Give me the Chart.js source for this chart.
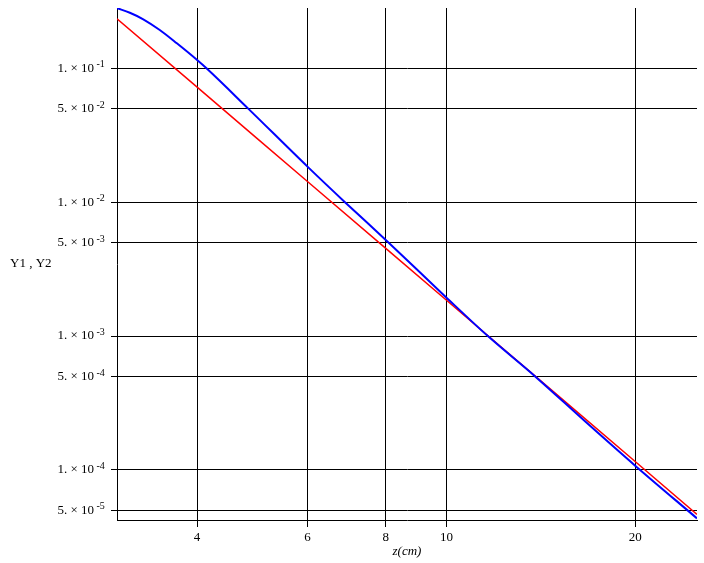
<!DOCTYPE html>
<html>
<head>
<meta charset="utf-8">
<script src="https://cdn.jsdelivr.net/npm/chart.js@4/dist/chart.umd.min.js"></script>
<style>
html,body{margin:0;padding:0;background:#fff;}
canvas{display:block;}
</style>
</head>
<body>
<canvas id="c" width="704" height="563"></canvas>
<script>
// z values (cm) and curve values
const zBlue = [2.98, 3.124, 3.282, 3.487, 3.713, 4.0, 4.14, 4.826, 6.0, 6.886, 8.0, 10.0, 11.64, 13.85, 16.65, 20.0, 25.1];
const Y1 = [0.281, 0.260, 0.2323, 0.1932, 0.1536, 0.1153, 0.100, 0.050, 0.01843, 0.0100, 0.00522, 0.001935, 0.00100, 0.000500, 0.000230, 0.0001077, 0.0000435];
const zRed = [2.98, 4, 5, 6, 8, 10, 12, 15, 20, 25.1];
const Y2 = [0.2340, 0.07227, 0.0296, 0.01427, 0.004517, 0.00185, 0.000892, 0.0003654, 0.0001156, 0.0000466];
const xTicks = [4, 6, 8, 10, 20];
const yTicks = [5e-5, 1e-4, 5e-4, 1e-3, 5e-3, 1e-2, 5e-2, 1e-1];
const yTickMantissa = ['5. × 10', '1. × 10', '5. × 10', '1. × 10', '5. × 10', '1. × 10', '5. × 10', '1. × 10'];
const yTickExponent = ['-5', '-4', '-4', '-3', '-3', '-2', '-2', '-1'];

const FONT = '"Liberation Serif", "Times New Roman", serif';

function tickIndex(v) {
  return yTicks.findIndex(t => Math.abs(t - v) / t < 1e-6);
}

const textPlugin = {
  id: 'extraText',
  afterDraw(chart) {
    const ctx = chart.ctx;
    const ys = chart.scales.y;
    ctx.save();
    ctx.fillStyle = '#000';
    // exponents of the y tick labels
    ctx.font = '10px ' + FONT;
    ctx.textAlign = 'left';
    ctx.textBaseline = 'middle';
    yTicks.forEach((v, i) => {
      const py = ys.getPixelForValue(v);
      ctx.fillText(yTickExponent[i], 96.5, py - 3.5);
    });
    // y axis title (horizontal)
    ctx.font = '13px ' + FONT;
    ctx.fillText('Y1 , Y2', 10, 264);
    ctx.restore();
  }
};

new Chart(document.getElementById('c'), {
  type: 'line',
  data: {
    datasets: [
      {
        label: 'Y1',
        data: zBlue.map((z, i) => ({x: z, y: Y1[i]})),
        borderColor: '#0000ff',
        borderWidth: 2,
        pointRadius: 0,
        cubicInterpolationMode: 'monotone',
        fill: false
      },
      {
        label: 'Y2',
        data: zRed.map((z, i) => ({x: z, y: Y2[i]})),
        borderColor: '#ff0000',
        borderWidth: 1.5,
        pointRadius: 0,
        tension: 0,
        fill: false
      }
    ]
  },
  options: {
    responsive: false,
    animation: false,
    devicePixelRatio: 1,
    layout: { padding: { top: 8, right: 7, left: 0, bottom: 0 } },
    plugins: { legend: { display: false }, tooltip: { enabled: false } },
    scales: {
      x: {
        type: 'logarithmic',
        min: 2.98,
        max: 25.1,
        afterBuildTicks: (s) => { s.ticks = xTicks.map(v => ({value: v})); },
        afterFit: (s) => { s.height = 43; s.paddingLeft = 0; s.paddingRight = 0; },
        ticks: {
          autoSkip: false,
          maxRotation: 0,
          padding: 3,
          color: '#000',
          font: { family: FONT, size: 13 },
          callback: (v) => String(v)
        },
        grid: { color: '#000', lineWidth: 1, drawTicks: true, tickLength: 7, tickColor: '#000' },
        border: { display: true, color: '#000', width: 1 },
        title: {
          display: true,
          text: 'z(cm)',
          color: '#000',
          font: { family: FONT, size: 13, style: 'italic' },
          padding: { top: 2, bottom: 4 }
        }
      },
      y: {
        type: 'logarithmic',
        min: 4.23e-5,
        max: 0.282,
        afterBuildTicks: (s) => { s.ticks = yTicks.map(v => ({value: v})); },
        afterFit: (s) => { s.width = 117; s.paddingTop = 0; s.paddingBottom = 0; },
        ticks: {
          autoSkip: false,
          padding: 17,
          color: '#000',
          font: { family: FONT, size: 13 },
          callback: (v) => {
            const i = tickIndex(v);
            return i >= 0 ? yTickMantissa[i] : '';
          }
        },
        grid: { color: '#000', lineWidth: 1, drawTicks: true, tickLength: 6, tickColor: '#000' },
        border: { display: true, color: '#000', width: 1 }
      }
    }
  },
  plugins: [textPlugin]
});
</script>
</body>
</html>
